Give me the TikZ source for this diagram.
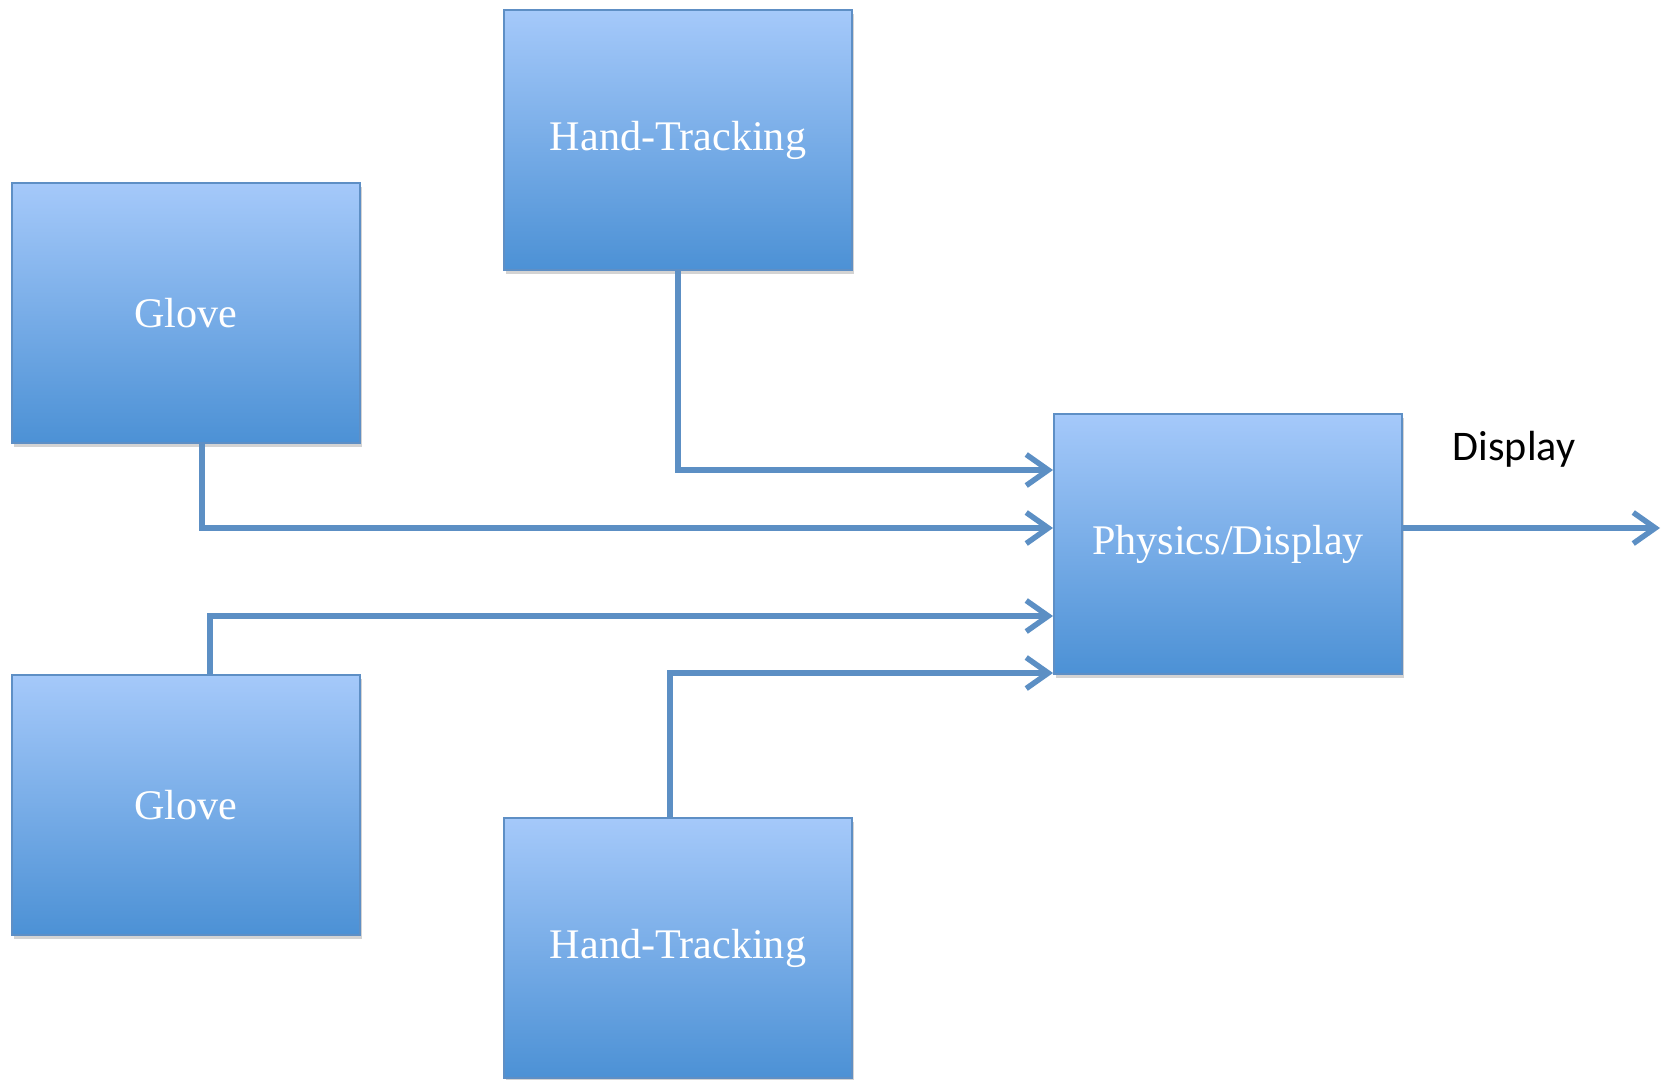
\documentclass[tikz,border=0pt]{standalone}
\usepackage{fontspec}
\setmainfont{Liberation Serif}
\newfontfamily\labelfont{Carlito}
\usetikzlibrary{arrows.meta, shadows}

\begin{document}
\begin{tikzpicture}[x=0.02cm, y=-0.02cm]
        \tikzset{block/.style={draw={rgb,255:red,94;green,143;blue,197}, line width=1pt, top color={rgb,255:red,165;green,201;blue,250}, bottom color={rgb,255:red,76;green,145;blue,213}, minimum width=6.96cm, minimum height=5.2cm, text=white, font=\fontsize{24}{28}\selectfont, drop shadow={opacity=0.35, shadow xshift=0.04cm, shadow yshift=-0.08cm}}}
        \tikzset{flow/.style={draw={rgb,255:red,92;green,143;blue,196}, line width=0.11cm, -{Straight Barb[length=0.44cm, width=0.62cm]}}}
        \useasboundingbox (0,0) rectangle (1665,1079);

        \node[block] (ht1) at (678,140) {Hand-Tracking};
        \node[block] (glove1) at (186,313) {Glove};
        \node[block] (phys) at (1228,544) {Physics/Display};
        \node[block] (glove2) at (186,805) {Glove};
        \node[block] (ht2) at (678,948) {Hand-Tracking};

        \coordinate (in1) at (1053,470);
        \coordinate (in2) at (1053,528);
        \coordinate (in3) at (1053,616);
        \coordinate (in4) at (1053,673);
        \coordinate (out) at (1660,528);

        \path[flow]
        (ht1.south) |- (in1);
        \path[flow] ([xshift=0.32cm]glove1.south) |- (in2);
        \path[flow] ([xshift=0.48cm]glove2.north) |- (in3);
        \path[flow] ([xshift=-0.16cm]ht2.north) |- (in4);
        \path[flow] (phys.east |- out) -- (out);

        \node[font=\labelfont\fontsize{24}{28}\selectfont] (lbl) at (1514,449) {Display};
    \end{tikzpicture}
\end{document}
